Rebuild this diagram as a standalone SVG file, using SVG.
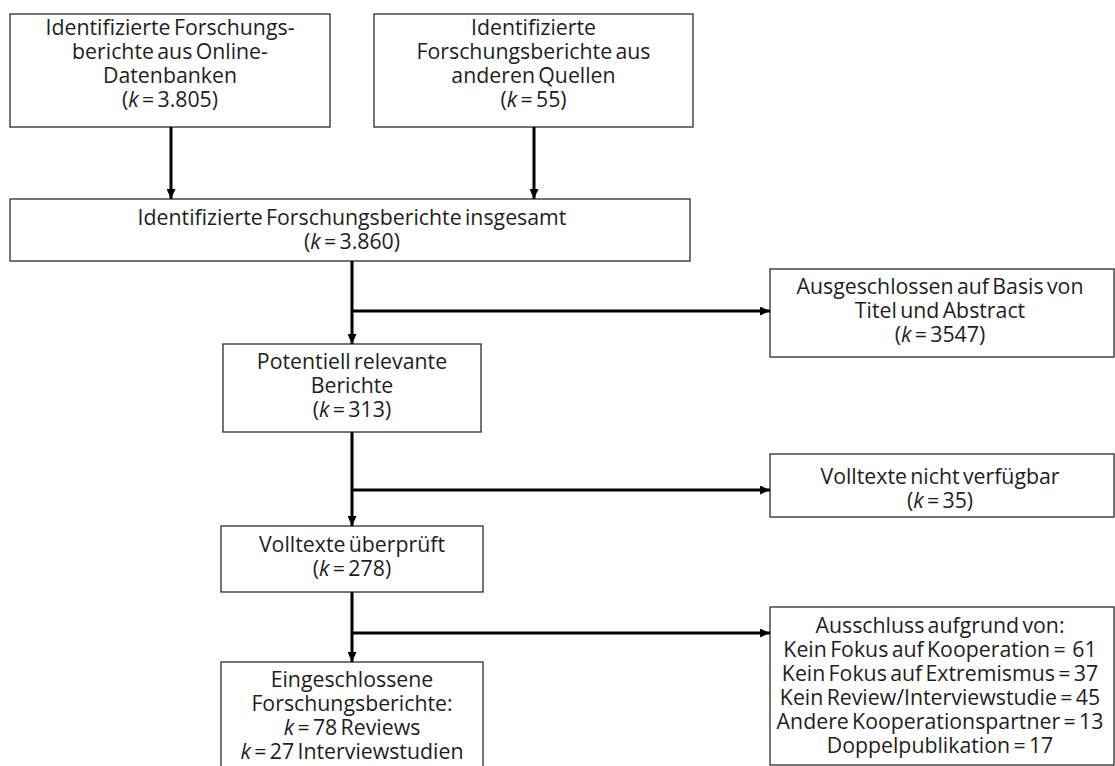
<svg xmlns="http://www.w3.org/2000/svg" width="1115" height="766" viewBox="0 0 1115 766">
<defs>
<marker id="ah" markerUnits="userSpaceOnUse" markerWidth="11" markerHeight="9" refX="10" refY="4.5" orient="auto">
<path d="M0,0 L10,4.5 L0,9 z" fill="#000"/>
</marker>
<style>
.box{fill:#fff;stroke:#3a3a3a;stroke-width:1.4}
.t{font-family:"Open Sans","Noto Sans",sans-serif;font-size:21.3px;fill:#1e1e1e;text-anchor:middle;word-spacing:-2.2px}
.i{font-style:italic}
.c{fill:none;stroke:#000;stroke-width:3}
</style>
</defs>
<rect width="1115" height="766" fill="#fff"/>
<g id="n1">
<rect class="box" x="10" y="14" width="320" height="113"/>
<text class="t"><tspan x="170" y="34.5">Identifizierte Forschungs-</tspan><tspan x="170" y="58.5">berichte aus Online-</tspan><tspan x="170" y="82.5">Datenbanken</tspan><tspan x="170" y="106.5">(<tspan class="i">k</tspan> = 3.805)</tspan></text>
</g>
<g id="n2">
<rect class="box" x="374" y="14" width="319" height="113"/>
<text class="t"><tspan x="533.5" y="34.5">Identifizierte</tspan><tspan x="533.5" y="58.5">Forschungsberichte aus</tspan><tspan x="533.5" y="82.5">anderen Quellen</tspan><tspan x="533.5" y="106.5">(<tspan class="i">k</tspan> = 55)</tspan></text>
</g>
<g id="n3">
<rect class="box" x="10" y="199" width="680" height="62"/>
<text class="t"><tspan x="352" y="224.5">Identifizierte Forschungsberichte insgesamt</tspan><tspan x="352" y="248.5">(<tspan class="i">k</tspan> = 3.860)</tspan></text>
</g>
<g id="n4">
<rect class="box" x="770" y="269" width="344" height="88"/>
<text class="t"><tspan x="940" y="293.5">Ausgeschlossen auf Basis von</tspan><tspan x="940" y="317.5">Titel und Abstract</tspan><tspan x="940" y="341.5">(<tspan class="i">k</tspan> = 3547)</tspan></text>
</g>
<g id="n5">
<rect class="box" x="223" y="344" width="258" height="88"/>
<text class="t"><tspan x="352" y="368.5">Potentiell relevante</tspan><tspan x="352" y="392.5">Berichte</tspan><tspan x="352" y="416.5">(<tspan class="i">k</tspan> = 313)</tspan></text>
</g>
<g id="n6">
<rect class="box" x="770" y="454" width="344" height="63"/>
<text class="t"><tspan x="940" y="483.5">Volltexte nicht verfügbar</tspan><tspan x="940" y="507.5">(<tspan class="i">k</tspan> = 35)</tspan></text>
</g>
<g id="n7">
<rect class="box" x="221" y="526" width="262" height="66"/>
<text class="t"><tspan x="352" y="551.5">Volltexte überprüft</tspan><tspan x="352" y="575.5">(<tspan class="i">k</tspan> = 278)</tspan></text>
</g>
<g id="n8">
<rect class="box" x="770" y="607" width="344" height="158"/>
<text class="t"><tspan x="940" y="632.5">Ausschluss aufgrund von:</tspan><tspan x="940" y="656.5">Kein Fokus auf Kooperation = &#160;61</tspan><tspan x="940" y="680.5">Kein Fokus auf Extremismus = 37</tspan><tspan x="940" y="704.5">Kein Review/Interviewstudie = 45</tspan><tspan x="940" y="728.5">Andere Kooperationspartner = 13</tspan><tspan x="940" y="752.5">Doppelpublikation = 17</tspan></text>
</g>
<g id="n9">
<rect class="box" x="221" y="662" width="262" height="110"/>
<text class="t"><tspan x="352" y="686.5">Eingeschlossene</tspan><tspan x="352" y="710.5">Forschungsberichte:</tspan><tspan x="352" y="734.5"><tspan class="i">k</tspan> = 78 Reviews</tspan><tspan x="352" y="758.5"><tspan class="i">k</tspan> = 27 Interviewstudien</tspan></text>
</g>
<g id="connectors">
<line class="c" x1="171" y1="127" x2="171" y2="199" marker-end="url(#ah)"/>
<line class="c" x1="534" y1="127" x2="534" y2="199" marker-end="url(#ah)"/>
<line class="c" x1="352" y1="261" x2="352" y2="344" marker-end="url(#ah)"/>
<line class="c" x1="352" y1="311" x2="770" y2="311" marker-end="url(#ah)"/>
<line class="c" x1="352" y1="432" x2="352" y2="526" marker-end="url(#ah)"/>
<line class="c" x1="352" y1="490" x2="770" y2="490" marker-end="url(#ah)"/>
<line class="c" x1="352" y1="592" x2="352" y2="662" marker-end="url(#ah)"/>
<line class="c" x1="352" y1="633" x2="770" y2="633" marker-end="url(#ah)"/>
</g>
</svg>
